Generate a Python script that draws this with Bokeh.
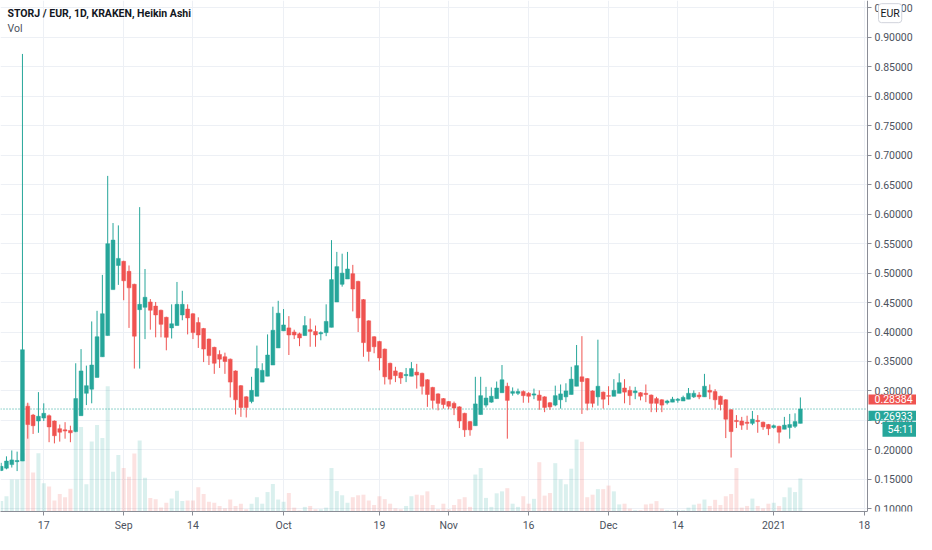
import numpy as np
import pandas as pd
from bokeh.plotting import figure
from bokeh.models import (Range1d, FixedTicker, PrintfTickFormatter, Label, Span,
                          ColumnDataSource, LinearAxis, BoxAnnotation)
from bokeh.embed import file_html
from bokeh.resources import INLINE

# ---------------- data ----------------
first_day = "2020-08-09"
ref_day = "2020-08-17"

opens = [
    .165, .169, .175, .180, .181, .274, .259, .249, .254, .258,
    .249, .236, .234, .233, .231, .258, .296, .303, .323, .358,
    .394, .472, .513, .520, .503, .481, .438, .442, .451, .444,
    .437, .425, .407, .411, .429, .439, .431, .416, .406, .388,
    .374, .362, .358, .354, .334, .309, .290, .282, .291, .315,
    .325, .344, .373, .402, .407, .400, .397, .394, .404, .401,
    .397, .399, .408, .451, .481, .490, .499, .486, .455, .419,
    .392, .384, .371, .347, .334, .331, .326, .325, .332, .330,
    .319, .306, .295, .287, .282, .279, .273, .262, .248, .241,
    .260, .276, .281, .287, .297, .308, .296, .296, .299, .296,
    .293, .293, .290, .280, .276, .285, .290, .294, .308, .324,
    .321, .300, .290, .298, .292, .291, .296, .305, .301, .297,
    .297, .296, .293, .287, .285, .280, .281, .284, .283, .286,
    .290, .293, .290, .301, .299, .291, .285, .268, .250, .249,
    .247, .245, .250, .247, .243, .238, .240, .235, .238, .240,
    .245]
highs = [
    .178, .189, .199, .197, .872, .280, .261, .298, .279, .260,
    .250, .243, .247, .241, .347, .371, .343, .418, .436, .497,
    .665, .585, .581, .521, .513, .482, .612, .507, .456, .451,
    .438, .426, .447, .485, .470, .447, .432, .425, .407, .389,
    .375, .369, .365, .355, .335, .310, .291, .324, .377, .347,
    .396, .443, .453, .439, .427, .404, .399, .427, .423, .411,
    .401, .447, .556, .536, .533, .536, .514, .487, .456, .420,
    .393, .385, .372, .348, .341, .332, .339, .349, .346, .331,
    .320, .307, .296, .288, .283, .282, .274, .263, .249, .324,
    .324, .307, .306, .316, .344, .314, .306, .304, .301, .298,
    .304, .301, .291, .281, .309, .311, .313, .341, .378, .393,
    .322, .301, .387, .299, .308, .320, .330, .320, .308, .307,
    .298, .311, .294, .290, .286, .285, .290, .288, .292, .305,
    .301, .298, .329, .311, .303, .292, .286, .269, .259, .256,
    .258, .266, .259, .248, .244, .243, .241, .256, .261, .262,
    .289]
lows = [
    .164, .167, .170, .164, .181, .219, .227, .229, .249, .213,
    .211, .214, .219, .213, .230, .258, .276, .279, .323, .358,
    .394, .472, .480, .454, .407, .338, .338, .388, .404, .391,
    .391, .369, .389, .411, .420, .396, .388, .373, .349, .344,
    .329, .339, .329, .289, .260, .256, .255, .279, .291, .315,
    .325, .344, .373, .402, .361, .388, .376, .394, .375, .375,
    .386, .393, .408, .451, .477, .490, .435, .400, .358, .350,
    .364, .335, .311, .311, .315, .312, .315, .325, .304, .294,
    .273, .270, .267, .270, .269, .259, .237, .222, .224, .241,
    .260, .272, .280, .287, .297, .219, .292, .293, .280, .280,
    .286, .268, .264, .268, .274, .270, .281, .294, .308, .261,
    .267, .272, .275, .270, .276, .291, .296, .279, .276, .286,
    .284, .281, .264, .264, .264, .277, .281, .280, .283, .286,
    .288, .286, .290, .286, .270, .267, .220, .187, .237, .234,
    .234, .242, .229, .234, .225, .236, .211, .235, .219, .237,
    .245]
closes = [
    .172, .181, .183, .182, .370, .243, .241, .257, .262, .239,
    .224, .230, .232, .229, .287, .334, .309, .344, .392, .431,
    .550, .556, .525, .487, .475, .393, .447, .459, .437, .429,
    .413, .391, .414, .447, .447, .424, .399, .395, .371, .360,
    .347, .354, .350, .315, .285, .272, .272, .301, .338, .335,
    .361, .403, .432, .412, .395, .395, .390, .411, .401, .395,
    .399, .418, .489, .511, .500, .507, .473, .424, .382, .367,
    .375, .356, .324, .320, .326, .322, .328, .338, .327, .308,
    .294, .284, .279, .277, .274, .271, .249, .234, .234, .278,
    .292, .288, .291, .305, .319, .284, .299, .299, .292, .291,
    .295, .284, .272, .273, .292, .295, .300, .320, .343, .316,
    .279, .279, .308, .286, .291, .301, .314, .298, .292, .300,
    .291, .294, .279, .279, .276, .283, .286, .286, .289, .296,
    .296, .290, .308, .298, .285, .277, .252, .231, .248, .242,
    .245, .252, .248, .239, .236, .241, .230, .242, .243, .248,
    .26933]
volumes = [  # thousands
    10.7, 15.7, 33, 33, 60, 111, 40, 60, 29, 25.7,
    11.3, 18, 14.7, 23.3, 87, 87, 28, 72, 89, 75.7,
    128.7, 41, 58, 44.7, 35.7, 59.7, 73, 34.7, 14, 12.7,
    4, 9, 13.3, 21.3, 10.7, 11.3, 11.3, 25, 18, 10,
    9, 5.7, 3.3, 12.3, 5.7, 8, 2.3, 8, 14.7, 8,
    20, 28.3, 12.3, 10, 19, 4, 1, 4.7, 5.7, 2.3,
    2.3, 4, 44.7, 21, 16.7, 9, 14.7, 16.7, 17.3, 11.3,
    6.7, 15.7, 12.7, 8, 3.3, 2.3, 5.7, 15.7, 17.3, 16.7,
    20.7, 6.7, 2.3, 8, 2.3, 6.7, 12.7, 14.7, 4.7, 38,
    44.7, 14, 4.7, 18.7, 20.7, 24, 8, 4.7, 15.7, 8,
    13, 50.7, 16.3, 19, 49.7, 33, 28, 44, 74, 71.7,
    14.7, 17.3, 23, 23, 26.7, 20.7, 7.3, 8, 3, 1.3,
    1.3, 7.3, 8, 10.7, 3, 1.3, 1.3, 1.3, 1.3, 4,
    7, 8, 12.3, 5.7, 12, 6.7, 15.7, 18, 44.7, 4,
    5.7, 13.3, 5.7, 3.3, 8, 9, 5.7, 14.7, 24.7, 20,
    34]

tick_dates = ["2020-08-17", "2020-09-01", "2020-09-14", "2020-10-01", "2020-10-19",
              "2020-11-01", "2020-11-16", "2020-12-01", "2020-12-14", "2021-01-01", "2021-01-18"]
tick_labels = ["17", "Sep", "14", "Oct", "19", "Nov", "16", "Dec", "14", "2021", "18"]
price_ticks = [0.10, 0.15, 0.20, 0.25, 0.30, 0.35, 0.40, 0.45, 0.50,
               0.55, 0.60, 0.65, 0.70, 0.75, 0.80, 0.85, 0.90, 0.95]
last_price_label = "0.28384"
last_ha_close_label = "0.26933"
countdown_label = "54:11"
currency_label = "EUR"
title_text = "STORJ / EUR, 1D, KRAKEN, Heikin Ashi"
volume_title = "Vol"

# ---------------- build ----------------
GREEN = "#26a69a"
RED = "#ef5350"
FONT = "Roboto"
AXIS_TEXT = "#4c525e"
AXIS_LINE = "#8a8d96"

dates = pd.date_range(first_day, periods=len(opens), freq="D")
x = np.array((dates - pd.Timestamp(ref_day)).days, dtype=float)
o = np.array(opens); h = np.array(highs); l = np.array(lows); c = np.array(closes)
up = c >= o
colors = [GREEN if u else RED for u in up]

src = ColumnDataSource(dict(
    x=x, o=o, h=h, l=l, c=c, top=np.maximum(o, c), bot=np.minimum(o, c),
    vol=np.array(volumes), color=colors,
))

tick_x = [(pd.Timestamp(t) - pd.Timestamp(ref_day)).days for t in tick_dates]

W, H = 916, 534
x0, x_axis = -8.12, 154.6          # visible time span up to the price scale
x1 = x0 + (x_axis - x0) * W / 867.0  # frame continues under the price scale
y0, y1 = 0.0954, 0.9627

p = figure(width=W, height=H, x_range=Range1d(x0, x1), y_range=Range1d(y0, y1),
           y_axis_location=None, output_backend="svg", toolbar_location=None,
           min_border_left=0, min_border_right=0, min_border_top=0, min_border_bottom=0,
           background_fill_color="white", border_fill_color="white", outline_line_color=None)

p.extra_y_ranges = {"vol": Range1d(0, 525.5)}

# grid
p.xgrid.ticker = FixedTicker(ticks=tick_x)
p.ygrid.ticker = FixedTicker(ticks=price_ticks)
p.xgrid.grid_line_color = "#edf0f5"
p.ygrid.grid_line_color = "#edf0f5"

# last value dotted line (under the scale cover)
p.add_layout(Span(location=c[-1], dimension="width", line_color=GREEN,
                  line_dash="1 2", line_width=1, level="underlay"))
# white area of the price scale
p.add_layout(BoxAnnotation(left=x_axis, fill_color="white", fill_alpha=1.0,
                           line_color=None, level="underlay"))

# price axis drawn at the edge of the time span
yax = LinearAxis(fixed_location=x_axis, ticker=FixedTicker(ticks=price_ticks),
                 formatter=PrintfTickFormatter(format="%.5f"))
p.add_layout(yax, "right")

p.xaxis.ticker = FixedTicker(ticks=tick_x)
p.xaxis.major_label_overrides = {tx: lab for tx, lab in zip(tick_x, tick_labels)}
p.xaxis.bounds = (x0, x_axis)
for ax in (p.xaxis[0], yax):
    ax.major_label_text_font = FONT
    ax.major_label_text_font_size = "10.5px"
    ax.major_label_text_color = AXIS_TEXT
    ax.axis_line_color = AXIS_LINE
    ax.major_tick_line_color = AXIS_LINE
    ax.major_tick_out = 4
    ax.major_tick_in = 0
    ax.minor_tick_out = 0
    ax.minor_tick_in = 0
    ax.major_label_standoff = 3

# volume
p.vbar(x="x", top="vol", bottom=0, width=0.75, source=src, y_range_name="vol",
       fill_color="color", fill_alpha=0.17, line_color=None)

# candles
p.segment(x0="x", y0="l", x1="x", y1="h", source=src, line_color="color", line_width=1)
p.vbar(x="x", top="top", bottom="bot", width=0.72, source=src,
       fill_color="color", line_color="color", line_width=0.5)

# title texts
p.add_layout(Label(x=x0, y=y1, x_offset=7, y_offset=-6, text=title_text,
                   text_font=FONT, text_font_size="10.5px", text_font_style="bold",
                   text_color="#131722", text_baseline="top", text_align="left"))
p.add_layout(Label(x=x0, y=y1, x_offset=7, y_offset=-21, text=volume_title,
                   text_font=FONT, text_font_size="10.5px",
                   text_color="#4c525e", text_baseline="top", text_align="left"))

# price labels on the scale
p.add_layout(Label(x=x_axis, y=0.2856, x_offset=1, text=last_price_label, text_font=FONT,
                   text_font_size="10.5px", text_color="white", background_fill_color=RED,
                   text_baseline="middle", text_align="left", padding=dict(x=6, y=1)))
p.add_layout(Label(x=x_axis, y=0.2580, x_offset=1, text=last_ha_close_label, text_font=FONT,
                   text_font_size="10.5px", text_color="white", background_fill_color=GREEN,
                   text_baseline="middle", text_align="left", padding=dict(x=6, y=1)))
p.add_layout(Label(x=x_axis, y=0.2350, x_offset=15, text=countdown_label, text_font=FONT,
                   text_font_size="10.5px", text_color="white", background_fill_color=GREEN,
                   text_baseline="middle", text_align="left", padding=dict(x=5, y=1)))
p.add_layout(Label(x=x_axis, y=0.9412, x_offset=11, text=currency_label, text_font=FONT,
                   text_font_size="10.5px", text_color="#131722", background_fill_color="white",
                   border_line_color="#d1d4dc", border_radius=3,
                   text_baseline="middle", text_align="left", padding=dict(x=2, y=3)))

open("out.html", "w").write(file_html(p, INLINE))
